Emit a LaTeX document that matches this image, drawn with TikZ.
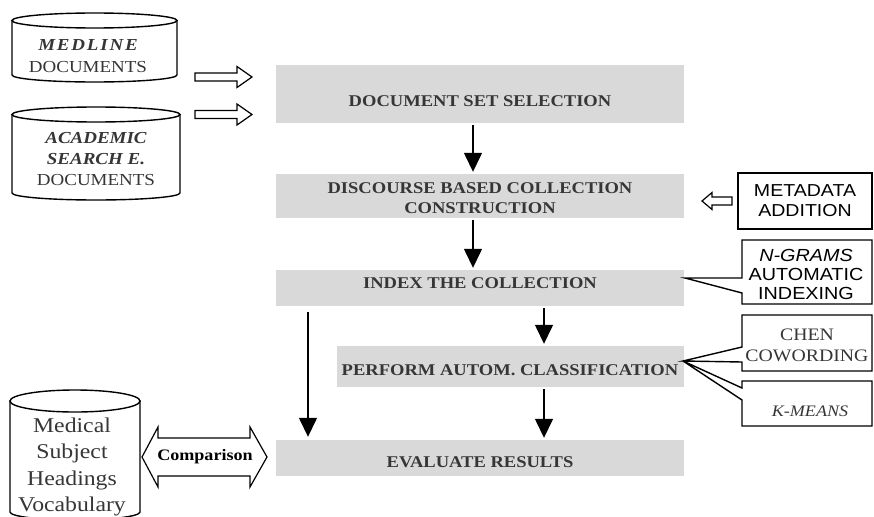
\documentclass[tikz,border=0pt]{standalone}
\usepackage{fontspec}
\setmainfont{Liberation Serif}[FakeStretch=1.13]
\newfontfamily\arialf{Liberation Sans}[FakeStretch=1.13]
\usetikzlibrary{arrows.meta,calc}
\definecolor{boxgray}{HTML}{D9D9D9}
\definecolor{txtgray}{HTML}{363636}
\begin{document}
\begin{tikzpicture}[x=1pt,y=-1pt,
  graybox/.style={fill=boxgray,draw=none,inner sep=0pt},
  boxtext/.style={font=\fontsize{16.4}{20}\selectfont\bfseries,text=txtgray,align=center,inner sep=0pt},
  flow/.style={line width=1.4pt,-{Triangle[width=18pt,length=19pt]}},
  outl/.style={line width=1.4pt,draw=black,fill=white,line join=miter},
  hollow/.style={line width=1.2pt,draw=black,fill=white,line join=miter},
  cyltext/.style={align=center,inner sep=0pt,text=txtgray},
  sidetext/.style={align=center,inner sep=0pt}]
\useasboundingbox (0,0) rectangle (874,516);
\begin{scope}
\clip (0,0) rectangle (874,516);

% ---- gray process boxes
\node[graybox,minimum width=408pt,minimum height=58pt] (dss) at (480,94) {};
\node[graybox,minimum width=408pt,minimum height=44pt] (disc) at (480,196) {};
\node[graybox,minimum width=408pt,minimum height=36pt] (index) at (480,288) {};
\node[graybox,minimum width=347pt,minimum height=41pt] (perf) at (510.5,366.5) {};
\node[graybox,minimum width=408pt,minimum height=36pt] (eval) at (480,458) {};

\node[boxtext] (dsst) at (480,101) {DOCUMENT SET SELECTION};
\node[boxtext] (disct) at (480,198) {DISCOURSE BASED COLLECTION\\CONSTRUCTION};
\node[boxtext] (indext) at (480,283) {INDEX THE COLLECTION};
\node[boxtext] (perft) at (510,370) {PERFORM AUTOM. CLASSIFICATION};
\node[boxtext] (evalt) at (480,462) {EVALUATE RESULTS};

% ---- flow arrows
\coordinate (c1) at (473,0);
\coordinate (c2) at (544,0);
\coordinate (c3) at (308,0);
\draw[flow,shorten <=2pt,shorten >=2pt] (c1 |- dss.south) -- (c1 |- disc.north);
\draw[flow,shorten <=2pt,shorten >=2pt] (c1 |- disc.south) -- (c1 |- index.north);
\draw[flow,shorten <=2pt,shorten >=2pt] (c2 |- index.south) -- (c2 |- perf.north);
\draw[flow,shorten <=2pt,shorten >=2pt] (c2 |- perf.south) -- (c2 |- eval.north);
\draw[flow,shorten <=6pt,shorten >=3pt] (c3 |- index.south) -- (c3 |- eval.north);

% ---- MEDLINE cylinder
\draw[outl] (12,20.5) -- (12,75) arc[start angle=180,end angle=0,x radius=82.5,y radius=7] -- (177,20.5) -- cycle;
\draw[outl] (94.5,20.5) ellipse [x radius=82.5,y radius=7.5];
\node[cyltext,font=\fontsize{16.8}{22}\selectfont] (medline) at (88,56)
  {{\bfseries\itshape M\kern1.8pt E\kern1.8pt D\kern1.8pt L\kern1.8pt I\kern1.8pt N\kern1.8pt E}\\DOCUMENTS};

% ---- ACADEMIC cylinder
\draw[outl] (12,114.5) -- (12,193) arc[start angle=180,end angle=0,x radius=84,y radius=7] -- (180,114.5) -- cycle;
\draw[outl] (96,114.5) ellipse [x radius=84,y radius=7.5];
\node[cyltext,font=\fontsize{16.8}{21}\selectfont] (academic) at (96,159)
  {{\bfseries\itshape ACADEMIC}\\{\bfseries\itshape SEARCH E.}\\DOCUMENTS};

% ---- hollow input arrows
\draw[hollow] (195,73) -- (237,73) -- (237,66.5) -- (252,77) -- (237,87.5) -- (237,81) -- (195,81) -- cycle;
\draw[hollow] (195,110.5) -- (237,110.5) -- (237,104) -- (252,114.5) -- (237,125) -- (237,118.5) -- (195,118.5) -- cycle;

% ---- METADATA
\node[draw,line width=1.4pt,minimum width=134pt,minimum height=56pt,sidetext,
  font=\arialf\fontsize{17.3}{20}\selectfont] (meta) at (805,201) {METADATA\\ADDITION};
\draw[hollow] (702,201) -- (712,192.5) -- (712,197) -- (732,197) -- (732,205) -- (712,205) -- (712,209.5) -- cycle;

% ---- callouts
\draw[outl] (742,278) -- (742,240) -- (872,240) -- (872,304) -- (742,304) -- (742,293) -- (685,278) -- cycle;
\node[sidetext,font=\arialf\fontsize{17.5}{19}\selectfont] (ngrams) at (806,274)
  {{\itshape N-GRAMS}\\AUTOMATIC\\INDEXING};

\draw[outl] (742,347) -- (742,315) -- (872,315) -- (872,371) -- (742,371) -- (742,362) -- (683,361) -- cycle;
\node[sidetext,text=txtgray,font=\fontsize{17.5}{21}\selectfont] (chen) at (807,345.5) {CHEN\\COWORDING};

\draw[outl] (742,388) -- (742,381) -- (872,381) -- (872,426) -- (742,426) -- (742,400) -- (683,361) -- cycle;
\node[sidetext,text=txtgray,font=\fontsize{16}{20}\selectfont\itshape] (kmeans) at (810,411) {K-MEANS};

% ---- Medical Subject Headings cylinder
\draw[outl] (10,401) -- (10,512) arc[start angle=180,end angle=0,x radius=65,y radius=8] -- (140,401) -- cycle;
\draw[outl] (75,401) ellipse [x radius=65,y radius=11];
\node[cyltext,font=\fontsize{21}{26.5}\selectfont] (mesh) at (72,467)
  {Medical\\Subject\\Headings\\Vocabulary};

% ---- Comparison double arrow
\draw[hollow] (142,457) -- (158,427) -- (158,438) -- (250,438) -- (250,427) -- (267,457)
  -- (250,487) -- (250,476) -- (158,476) -- (158,487) -- cycle;
\node[inner sep=0pt,font=\fontsize{16}{20}\selectfont\bfseries] (cmp) at (205,457) {Comparison};
\end{scope}
\end{tikzpicture}
\end{document}
